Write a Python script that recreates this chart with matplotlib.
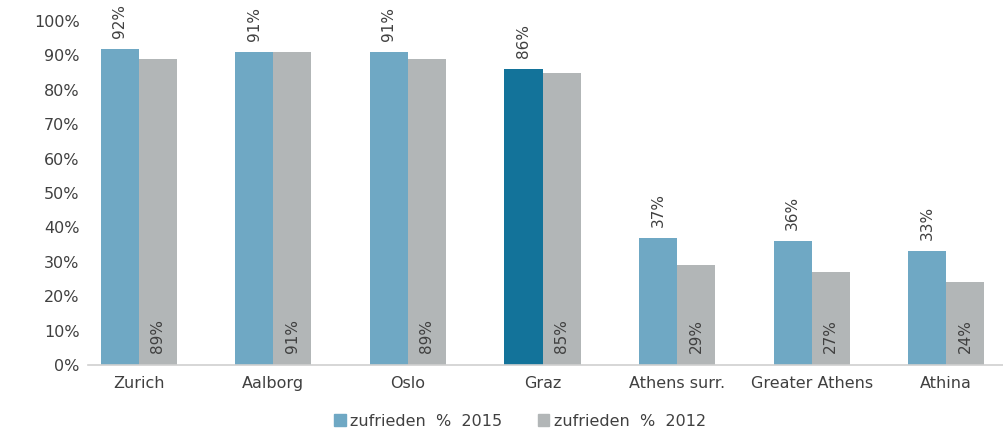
import numpy as np
import matplotlib.pyplot as plt
from matplotlib.patches import Patch

cities = ["Zurich", "Aalborg", "Oslo", "Graz", "Athens surr.", "Greater Athens", "Athina"]
sat_2015 = [92, 91, 91, 86, 37, 36, 33]
sat_2012 = [89, 91, 89, 85, 29, 27, 24]

blue = "#6FA8C4"
blue_hl = "#13739A"
grey = "#B2B6B7"
txt = "#404040"
lab_font = ["Liberation Sans Narrow", "DejaVu Sans"]

fig = plt.figure(figsize=(10.04, 4.28), dpi=100)
ax = fig.add_axes([88 / 1004, 1 - 365 / 428, 1 - 88 / 1004, (365 - 21) / 428])

x = np.arange(len(cities))
w = 0.283
colors15 = [blue_hl if c == "Graz" else blue for c in cities]
ax.bar(x - w / 2, sat_2015, w, color=colors15)
ax.bar(x + w / 2, sat_2012, w, color=grey)

for xi, v in zip(x, sat_2015):
    ax.text(xi - w / 2, v + 3.2, f"{v}%", rotation=90, ha="center", va="bottom",
            fontsize=11, color=txt, family=lab_font, clip_on=False)
for xi, v in zip(x, sat_2012):
    ax.text(xi + w / 2, 3.5, f"{v}%", rotation=90, ha="center", va="bottom",
            fontsize=11, color=txt, family=lab_font)

ax.set_ylim(0, 100)
ax.set_xlim(-0.378, 6.43)
ax.set_yticks(range(0, 101, 10))
ax.set_yticklabels([f"{t}%" for t in range(0, 101, 10)])
ax.set_xticks(x)
ax.set_xticklabels(cities)
ax.tick_params(axis="both", length=0, labelsize=11.5, labelcolor=txt)
ax.tick_params(axis="y", pad=6)
ax.tick_params(axis="x", pad=8)
for s in ["top", "right", "left"]:
    ax.spines[s].set_visible(False)
ax.spines["bottom"].set_color("#D0D0D0")
ax.spines["bottom"].set_linewidth(1.2)

handles = [Patch(color=blue), Patch(color=grey)]
fig.legend(handles=handles, labels=["zufrieden  %  2015", "zufrieden  %  2012"],
           loc="center", bbox_to_anchor=(0.518, 1 - 421 / 428), ncol=2, frameon=False,
           fontsize=11.5, handlelength=0.7, handleheight=0.7, handletextpad=0.3,
           columnspacing=2.2, labelcolor=txt)

fig.savefig("out.png", dpi=100)
